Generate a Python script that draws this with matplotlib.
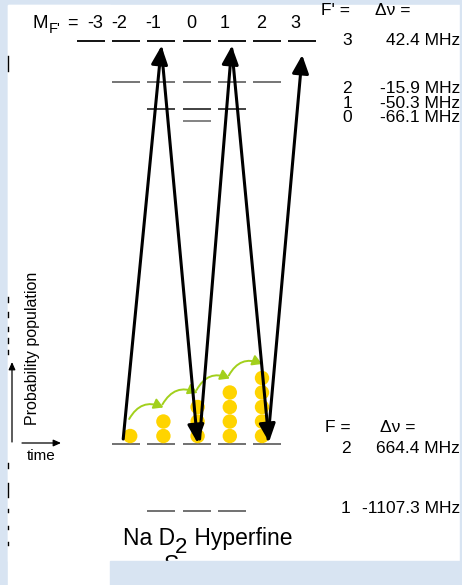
import matplotlib
matplotlib.use("Agg")
import matplotlib.pyplot as plt
from matplotlib.patches import Rectangle, Circle, FancyArrowPatch

plt.rcParams['font.family'] = ['Liberation Sans', 'DejaVu Sans']

# --- data ---
m_values = [-3, -2, -1, 0, 1, 2, 3]
excited_F = [3, 2, 1, 0]
excited_dnu = ['42.4 MHz', '-15.9 MHz', '-50.3 MHz', '-66.1 MHz']
ground_F = [2, 1]
ground_dnu = ['664.4 MHz', '-1107.3 MHz']
pop_m = [-2, -1, 0, 1, 2]
pop_count = [1, 2, 3, 4, 5]
# optical pumping steps: (from level, from m, to level, to m)
transitions = [('g2', -2, 'e3', -1), ('e3', -1, 'g2', 0), ('g2', 0, 'e3', 1),
               ('e3', 1, 'g2', 2), ('g2', 2, 'e3', 3)]

# --- layout (pixel units) ---
W, H = 462, 585
BG = '#d8e4f2'
col0, col_step, half = 91, 35.2, 14


def colx(m):
    return col0 + col_step * (m + 3)


level_y = {'e3': 41, 'e2': 82, 'e1': 109, 'e0': 121, 'g2': 444, 'g1': 511}
level_col = {'e3': 'black', 'e2': '#6a6a6a', 'e1': '#333333', 'e0': '#7a7a7a',
             'g2': '#666666', 'g1': '#666666'}
label_base = {'e3': 45, 'e2': 93, 'e1': 108, 'e0': 122, 'g2': 453, 'g1': 513}
m_label_x = [95, 119, 153, 191, 225, 261, 295]
start_dx = [-3, 0, 3, 0, 1]
end_dx = [0, 1, 0, 2, 0]
end_gap = [5, -1, 5, -2, 14]
dot_dx = [4, 2, 1, -2, -5]

fig = plt.figure(figsize=(W / 100, H / 100), dpi=100, facecolor=BG)
ax = fig.add_axes([0, 0, 1, 1])
ax.set_xlim(0, W)
ax.set_ylim(H, 0)
ax.axis('off')
ax.set_facecolor(BG)

# white slide area
ax.add_patch(Rectangle((8, 5), 452, 556, color='white', zorder=0))
ax.add_patch(Rectangle((8, 5), 102, 580, color='white', zorder=0))

# energy levels
for key, F in [('e%d' % f, f) for f in excited_F] + [('g%d' % f, f) for f in ground_F]:
    for m in range(-F, F + 1):
        x = colx(m)
        ax.plot([x - half, x + half], [level_y[key]] * 2, color=level_col[key],
                lw=1.3, solid_capstyle='butt', zorder=2)

# top mF labels
fs = 13
ax.text(32, 28, 'M', fontsize=13.5, va='baseline', ha='left')
ax.text(48.5, 33, "F'", fontsize=10.5, va='baseline', ha='left')
ax.text(67, 28, '=', fontsize=fs, va='baseline', ha='left')
for m, lx in zip(m_values, m_label_x):
    ax.text(lx, 28, str(m), fontsize=fs, va='baseline', ha='center')

# right-hand labels
ax.text(321, 15, "F' =", fontsize=12.5, va='baseline')
ax.text(375, 15, 'Δν =', fontsize=12.5, va='baseline')
for F, dnu in zip(excited_F, excited_dnu):
    key = 'e%d' % F
    ax.text(347, label_base[key], str(F), fontsize=12.5, ha='center', va='baseline')
    ax.text(460, label_base[key], dnu, fontsize=12.5, ha='right', va='baseline')
ax.text(325, 432, 'F =', fontsize=12.5, va='baseline')
ax.text(380, 432, 'Δν =', fontsize=12.5, va='baseline')
for F, dnu in zip(ground_F, ground_dnu):
    key = 'g%d' % F
    ax.text(346, label_base[key], str(F), fontsize=12.5, ha='center', va='baseline')
    ax.text(460, label_base[key], dnu, fontsize=12.5, ha='right', va='baseline')

# population dots
dot_r, dot_step = 7.2, 14.5
tops = []
for i, (m, n) in enumerate(zip(pop_m, pop_count)):
    x = colx(m) + dot_dx[i]
    for k in range(n):
        y = level_y['g2'] - 8 - k * dot_step
        ax.add_patch(Circle((x, y), dot_r, color='#ffd400', lw=0, zorder=3))
    tops.append((x, level_y['g2'] - 8 - (n - 1) * dot_step))

# green redistribution arrows
for i in range(len(tops) - 1):
    (x1, y1), (x2, y2) = tops[i], tops[i + 1]
    ax.add_patch(FancyArrowPatch((x1 - 1, y1 - 17), (x2, y2 - 14),
                                 connectionstyle='arc3,rad=-0.45',
                                 arrowstyle='-|>,head_length=5.5,head_width=3.2',
                                 color='#a2d01c', lw=1.4, shrinkA=0, shrinkB=0,
                                 zorder=4))

# pumping arrows
for i, (l0, m0, l1, m1) in enumerate(transitions):
    up = l1.startswith('e')
    x0 = colx(m0) + start_dx[i]
    x1 = colx(m1) + end_dx[i]
    if up:
        y0 = level_y[l0] - 5
    else:
        y0 = level_y[l0] + 8
    y1 = level_y[l1] + end_gap[i]
    ax.add_patch(FancyArrowPatch((x0, y0), (x1, y1),
                                 arrowstyle='-|>,head_length=11,head_width=5',
                                 color='black', lw=2.2, shrinkA=0, shrinkB=0,
                                 zorder=5))

# left axis hint
ax.add_patch(FancyArrowPatch((12, 442), (12, 362), arrowstyle='-|>,head_length=4.5,head_width=2',
                             color='black', lw=0.9, shrinkA=0, shrinkB=0))
ax.add_patch(FancyArrowPatch((22, 443), (61, 443), arrowstyle='-|>,head_length=4.5,head_width=2',
                             color='black', lw=0.9, shrinkA=0, shrinkB=0))
ax.text(33, 348, 'Probability population', rotation=90, fontsize=11.5,
        ha='center', va='center')
ax.text(27, 460, 'time', fontsize=11, va='baseline')

# left edge marks
for y0, y1 in [(56, 71), (297, 302), (312, 317), (327, 331), (338, 343), (350, 354),
               (463, 468), (483, 497), (509, 512), (526, 529), (542, 545)]:
    ax.plot([8, 8], [y0, y1], color='black', lw=1.0)

# title
fig.canvas.draw()
r = fig.canvas.get_renderer()
t1 = ax.text(123, 545, 'Na D', fontsize=16.5, va='baseline')
x = t1.get_window_extent(r).x1
t2 = ax.text(x, 553, '2', fontsize=16, va='baseline')
x = t2.get_window_extent(r).x1
ax.text(x, 545, ' Hyperfine', fontsize=16.5, va='baseline')
ax.text(164, 572, 'S', fontsize=16.5, va='baseline', zorder=1)
ax.add_patch(Rectangle((110, 561), 352, 30, color=BG, zorder=6))
ax.add_patch(Rectangle((460, 0), 2, H, color=BG, zorder=6))

fig.savefig('out.png', dpi=100, facecolor=BG)
